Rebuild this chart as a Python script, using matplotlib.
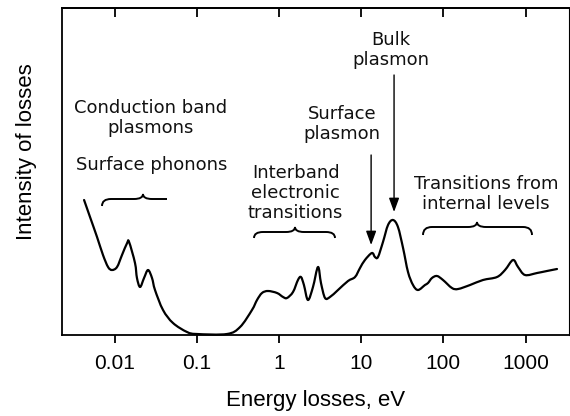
import matplotlib
matplotlib.use("Agg")
import numpy as np
import matplotlib.pyplot as plt
from matplotlib.path import Path
from matplotlib.patches import PathPatch
from matplotlib.ticker import FixedLocator, FixedFormatter, NullLocator

# ---- data (energy in eV, intensity in arbitrary units) ----
energy = [0.00425, 0.00502, 0.00611, 0.00722, 0.00832, 0.00929, 0.0107, 0.0123,
          0.0142, 0.0150, 0.0177, 0.0187, 0.0204, 0.0228, 0.0255, 0.0285,
          0.0310, 0.0388, 0.0513, 0.0760, 0.100, 0.233, 0.336, 0.469, 0.540,
          0.621, 0.735, 0.946, 1.12, 1.25, 1.48, 1.70, 1.85, 2.01, 2.25, 2.59,
          2.98, 3.24, 3.63, 4.17, 5.22, 6.91, 8.41, 9.67, 11.1, 13.5, 14.7, 16.0,
          18.4, 21.2, 24.4, 28.0, 32.3, 37.1, 42.7, 49.1, 59.7, 65.0, 72.6, 83.6,
          98.9, 127, 151, 211, 303, 449, 562, 703, 809, 983, 1380, 1820, 2410]
intensity = [134, 117, 97, 79, 67, 64, 67, 79,
             91, 92, 71, 56, 47, 56, 64, 56,
             44, 24, 11, 2, 0, 0, 7, 24, 34,
             41, 43, 41, 37, 36, 42, 54, 57, 49, 34, 47,
             67, 51, 36, 37, 44, 53, 57, 66, 74, 81, 77, 77,
             92, 109, 114, 107, 86, 62, 49, 44, 49, 51, 56, 58,
             54, 46, 45, 49, 54, 57, 64, 74, 67, 59, 61, 63, 65]

tick_values = [0.01, 0.1, 1, 10, 100, 1000]
tick_labels = ["0.01", "0.1", "1", "10", "100", "1000"]

W, H = 570, 416
fig = plt.figure(figsize=(W / 100, H / 100), dpi=100)
ax = fig.add_axes([62 / W, (H - 335) / H, 507 / W, 327 / H])
ax.set_xscale("log")
ax.set_xlim(0.00229, 3373)
ax.set_ylim(-1, 326)

# smooth rendering of the read points (curve passes through every point);
# built in (log10 E, I) space and drawn through the axes' log transform
pts = np.column_stack([np.log10(energy), np.asarray(intensity, float)])
ext = np.vstack([pts[0], pts, pts[-1]])
verts = [pts[0]]
codes = [Path.MOVETO]
for i in range(len(pts) - 1):
    p0, p1, p2, p3 = ext[i], ext[i + 1], ext[i + 2], ext[i + 3]
    verts += [p1 + (p2 - p0) / 6.0, p2 - (p3 - p1) / 6.0, p2]
    codes += [Path.CURVE4] * 3
verts = np.array(verts)
verts[:, 0] = 10 ** verts[:, 0]
curve = PathPatch(Path(verts, codes), fill=False, lw=1.6, edgecolor="black",
                  joinstyle="round", capstyle="round", transform=ax.transData,
                  clip_on=False, zorder=3)
ax.add_patch(curve)

label_font = "Liberation Sans"
ax.xaxis.set_major_locator(FixedLocator(tick_values))
ax.xaxis.set_major_formatter(FixedFormatter(tick_labels))
ax.xaxis.set_minor_locator(NullLocator())
ax.tick_params(axis="x", which="major", direction="out", length=5.8, width=1.3,
               pad=8, labelsize=15)
for t in ax.get_xticklabels():
    t.set_fontfamily(label_font)
ax.set_yticks([])

top = ax.secondary_xaxis("top")
top.xaxis.set_major_locator(FixedLocator(tick_values))
top.xaxis.set_minor_locator(NullLocator())
top.tick_params(axis="x", which="major", direction="in", length=6.5, width=1.3,
                labeltop=False)

for side in ["left", "bottom", "top"]:
    ax.spines[side].set_linewidth(1.3)
ax.spines["right"].set_linewidth(0.8)
top.spines["top"].set_linewidth(1.3)

ax.set_xlabel("Energy losses, eV", fontsize=16, family=label_font)
ax.xaxis.set_label_coords(0.5, -0.168)
ax.set_ylabel("Intensity of losses", fontsize=16, family=label_font)
ax.yaxis.set_label_coords(-0.049, 0.56)

# ---- annotations ----
ann = dict(fontsize=13, family="DejaVu Sans", ha="center", va="center",
           multialignment="center", linespacing=1.15, color="#111111")
ax.text(0.0270, 216, "Conduction band\nplasmons", **ann)
ax.text(0.0285, 169, "Surface phonons", **ann)
ax.text(1.59, 141, "Interband\nelectronic\ntransitions", **ann)
ax.text(5.84, 210, "Surface\nplasmon", **ann)
ax.text(23.0, 284, "Bulk\nplasmon", **ann)
ax.text(330, 140, "Transitions from\ninternal levels", **ann)

arrow = dict(arrowstyle="-|>,head_length=0.6,head_width=0.22", color="black",
             lw=1.0, mutation_scale=14, shrinkA=0, shrinkB=0)
ax.annotate("", xy=(13.2, 89), xytext=(13.2, 179), arrowprops=arrow)
ax.annotate("", xy=(25.1, 122), xytext=(25.1, 259), arrowprops=arrow)


def brace(x0, x1, xm, yf, yt, ybl, ybr, r=9):
    """Overbrace in figure pixel coordinates (y downwards)."""
    def p(x, y):
        return (x / W, 1 - y / H)
    bverts = [p(x0, ybl), p(x0, yf), p(x0 + r, yf),
              p(xm - r, yf), p(xm, yf), p(xm, yt),
              p(xm, yf), p(xm + r, yf),
              p(x1 - r, yf), p(x1, yf), p(x1, ybr)]
    bcodes = [Path.MOVETO, Path.CURVE3, Path.CURVE3,
              Path.LINETO, Path.CURVE3, Path.CURVE3,
              Path.CURVE3, Path.CURVE3,
              Path.LINETO, Path.CURVE3, Path.CURVE3]
    patch = PathPatch(Path(bverts, bcodes), fill=False, lw=1.4, color="black",
                      transform=fig.transFigure, clip_on=False)
    fig.add_artist(patch)


brace(102, 167, 143, 199, 194, 206, 199)
brace(254, 335, 295, 232, 227, 238, 238)
brace(423, 532, 477, 227, 222, 235, 235)

fig.savefig("out.png", dpi=100)
